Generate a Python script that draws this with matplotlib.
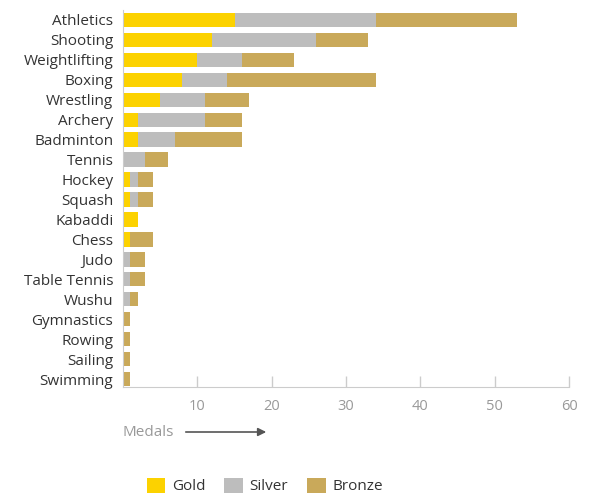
import numpy as np
import matplotlib.pyplot as plt

plt.rcParams['font.family'] = ['Open Sans', 'DejaVu Sans']

sports = ['Athletics', 'Shooting', 'Weightlifting', 'Boxing', 'Wrestling', 'Archery',
          'Badminton', 'Tennis', 'Hockey', 'Squash', 'Kabaddi', 'Chess', 'Judo',
          'Table Tennis', 'Wushu', 'Gymnastics', 'Rowing', 'Sailing', 'Swimming']
gold = [15, 12, 10, 8, 5, 2, 2, 0, 1, 1, 2, 1, 0, 0, 0, 0, 0, 0, 0]
silver = [19, 14, 6, 6, 6, 9, 5, 3, 1, 1, 0, 0, 1, 1, 1, 0, 0, 0, 0]
bronze = [19, 7, 7, 20, 6, 5, 9, 3, 2, 2, 0, 3, 2, 2, 1, 1, 1, 1, 1]

gold = np.array(gold)
silver = np.array(silver)
bronze = np.array(bronze)
y = np.arange(len(sports))

fig = plt.figure(figsize=(5.93, 4.93), dpi=100)
ax = fig.add_axes([123 / 593, 1 - 387 / 493, (569 - 123) / 593, (387 - 10) / 493])

h = 0.72
b1 = ax.barh(y, gold, height=h, color='#fcd200', label='Gold')
b2 = ax.barh(y, silver, left=gold, height=h, color='#bdbdbd', label='Silver')
b3 = ax.barh(y, bronze, left=gold + silver, height=h, color='#c9a95a', label='Bronze')

ax.set_ylim(18.4, -0.5)
ax.set_xlim(0, 60)
ax.set_yticks(y)
ax.set_yticklabels(sports, fontsize=11, color='#333333')
ax.set_xticks([10, 20, 30, 40, 50, 60])
ax.tick_params(axis='y', length=0, pad=7)
ax.tick_params(axis='x', direction='in', length=8, color='#cccccc', width=1,
               labelsize=10.5, labelcolor='#999999', pad=9)

for s in ['top', 'right']:
    ax.spines[s].set_visible(False)
for s in ['left', 'bottom']:
    ax.spines[s].set_color('#cccccc')

fig.text(122 / 593, 1 - 432 / 493, 'Medals', fontsize=11, color='#999999', va='center')
ax.annotate('', xy=(269 / 593, 1 - 432 / 493), xytext=(183 / 593, 1 - 432 / 493),
            xycoords='figure fraction', textcoords='figure fraction',
            arrowprops=dict(arrowstyle='-|>', color='#555555', lw=1.2, mutation_scale=12))

fig.legend(handles=[b1, b2, b3], loc='center left', bbox_to_anchor=(139 / 593, 1 - 486 / 493),
           ncol=3, frameon=False, fontsize=11, handlelength=1.2, handleheight=1.2,
           handletextpad=0.45, columnspacing=1.25, borderpad=0, labelcolor='#333333')

fig.savefig('out.png', dpi=100)
